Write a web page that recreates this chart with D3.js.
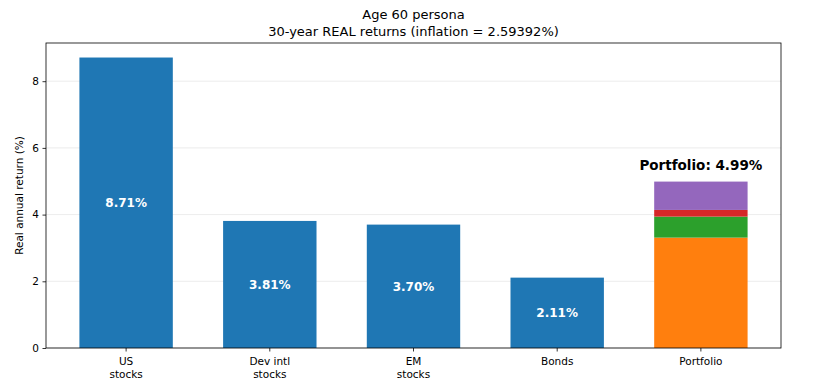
<!DOCTYPE html>
<html><head><meta charset="utf-8">
<script src="https://cdn.jsdelivr.net/npm/d3@7"></script>
<style>body{margin:0;background:#fff;font-family:"DejaVu Sans",sans-serif;}</style>
</head><body><svg id="c" width="821" height="390"></svg>
<script>
const categories = ["US\nstocks", "Dev intl\nstocks", "EM\nstocks", "Bonds", "Portfolio"];
const assetReturns = [8.71, 3.81, 3.70, 2.11];
const portfolioParts = [3.31, 0.63, 0.20, 0.85];
const portfolioTotal = 4.99;
const partColors = ["#ff7f0e", "#2ca02c", "#d62728", "#9467bd"];
const yTicks = [0, 2, 4, 6, 8];
const titleLines = ["Age 60 persona", "30-year REAL returns (inflation = 2.59392%)"];
const yLabel = "Real annual return (%)";

const svg = d3.select("#c");
const L = 46, R = 781, T = 43, B = 348;
const x = d3.scaleLinear().domain([-0.5575, 4.5575]).range([L, R]);
const y = d3.scaleLinear().domain([0, 9.1455]).range([B, T]);
const bw = 0.65;

// grid
svg.append("g").selectAll("line").data(yTicks).join("line")
  .attr("x1", L).attr("x2", R).attr("y1", d => y(d)).attr("y2", d => y(d))
  .attr("stroke", "#b0b0b0").attr("stroke-opacity", 0.3).attr("stroke-width", 0.8);

// asset bars
svg.append("g").selectAll("rect").data(assetReturns).join("rect")
  .attr("x", (d, i) => x(i - bw / 2)).attr("width", x(bw) - x(0))
  .attr("y", d => y(d)).attr("height", d => y(0) - y(d)).attr("fill", "#1f77b4");

svg.append("g").selectAll("text").data(assetReturns).join("text")
  .attr("x", (d, i) => x(i)).attr("y", d => y(d / 2)).attr("dy", "0.35em")
  .attr("text-anchor", "middle").attr("fill", "white").attr("font-weight", "bold")
  .attr("font-size", "12px").text(d => d.toFixed(2) + "%");

// stacked portfolio
let acc = 0;
const stack = portfolioParts.map((v, i) => { const s = { y0: acc, y1: acc + v, c: partColors[i] }; acc += v; return s; });
svg.append("g").selectAll("rect").data(stack).join("rect")
  .attr("x", x(4 - bw / 2)).attr("width", x(bw) - x(0))
  .attr("y", d => y(d.y1)).attr("height", d => y(d.y0) - y(d.y1)).attr("fill", d => d.c);

svg.append("text").attr("x", x(4)).attr("y", y(portfolioTotal + 0.35))
  .attr("text-anchor", "middle").attr("font-weight", "bold").attr("font-size", "13.5px")
  .attr("fill", "black").text("Portfolio: " + portfolioTotal.toFixed(2) + "%");

// frame
svg.append("rect").attr("x", L).attr("y", T).attr("width", R - L).attr("height", B - T)
  .attr("fill", "none").attr("stroke", "black").attr("stroke-width", 0.8);

// y axis
const ya = svg.append("g").attr("transform", `translate(${L},0)`)
  .call(d3.axisLeft(y).tickValues(yTicks).tickSize(3.5).tickPadding(3.5).tickFormat(d3.format("d")));
ya.select(".domain").remove();
ya.selectAll("text").attr("font-size", "10.5px").attr("font-family", "DejaVu Sans").attr("fill", "black");
ya.selectAll("line").attr("stroke", "black").attr("stroke-width", 0.8);

// x axis
const xa = svg.append("g").attr("transform", `translate(0,${B})`);
categories.forEach((c, i) => {
  xa.append("line").attr("x1", x(i)).attr("x2", x(i)).attr("y1", 0).attr("y2", 3.5).attr("stroke", "black").attr("stroke-width", 0.8);
  const t = xa.append("text").attr("text-anchor", "middle").attr("font-size", "10.5px").attr("fill", "black");
  c.split("\n").forEach((line, k) => {
    t.append("tspan").attr("x", x(i)).attr("y", 17 + k * 12.5).text(line);
  });
});

svg.append("text").attr("transform", `translate(23,${(T + B) / 2}) rotate(-90)`)
  .attr("text-anchor", "middle").attr("font-size", "10.5px").attr("fill", "black").text(yLabel);

titleLines.forEach((l, k) => {
  svg.append("text").attr("x", (L + R) / 2).attr("y", 19 + k * 17).attr("text-anchor", "middle")
    .attr("font-size", "13px").attr("fill", "black").text(l);
});
</script></body></html>
